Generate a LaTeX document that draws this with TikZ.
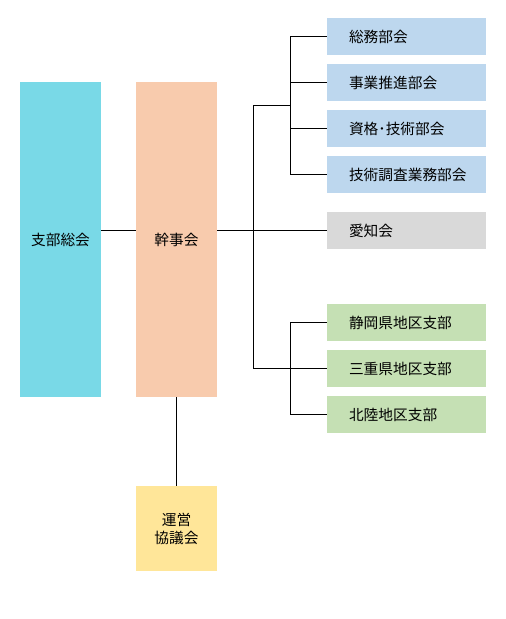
\documentclass[tikz,border=0pt]{standalone}
\usepackage{fontspec}
\newfontfamily\jpfont{Noto Sans CJK JP}
\usetikzlibrary{positioning}
\definecolor{soukaicol}{HTML}{79D9E7}
\definecolor{kanjicol}{HTML}{F8CBAD}
\definecolor{uneicol}{HTML}{FFE699}
\definecolor{bukaicol}{HTML}{BDD7EE}
\definecolor{aichicol}{HTML}{D9D9D9}
\definecolor{shibucol}{HTML}{C5E0B4}
\tikzstyle{tall}=[text width=81pt, inner sep=0pt,
    text centered, minimum height=315pt]
\tikzstyle{unei}=[text width=81pt, inner sep=0pt,
    text centered, minimum height=85pt]
\tikzstyle{bu}=[text width=115pt, inner xsep=22pt, inner ysep=0pt,
    align=left, minimum height=37pt]
\tikzstyle{link}=[line width=1pt, black]
\def\subx{290}

\begin{document}
\begin{tikzpicture}[x=1pt, y=-1pt, font=\jpfont\fontsize{14.7}{18}\selectfont]
    \useasboundingbox (0,0) rectangle (506,619);
    % left column
    \node (soukai) [tall, fill=soukaicol] at (60.5,239.5) {支部総会};
    \node (kanji) [tall, fill=kanjicol] at (176.5,239.5) {幹事会};
    \node (unei) [unei, fill=uneicol] at (176.5,528.5) {運営\\協議会};
    % committees
    \node (soumu) [bu, fill=bukaicol] at (406.5,36.5) {総務部会};
    \node (jigyo) [bu, fill=bukaicol] at (406.5,82.5) {事業推進部会};
    \node (shikaku) [bu, fill=bukaicol] at (406.5,128.5) {資格･技術部会};
    \node (chosa) [bu, fill=bukaicol] at (406.5,174.5) {技術調査業務部会};
    \node (aichi) [bu, fill=aichicol] at (406.5,230.5) {愛知会};
    % branches
    \node (shizuoka) [bu, fill=shibucol] at (406.5,322.5) {静岡県地区支部};
    \node (mie) [bu, fill=shibucol] at (406.5,368.5) {三重県地区支部};
    \node (hokuriku) [bu, fill=shibucol] at (406.5,414.5) {北陸地区支部};
    \coordinate (trunk) at (253,105.5);
    \coordinate (top) at (\subx,105.5);
    \coordinate (bottom) at (\subx,368.5);
    \draw[link] (soukai.east |- aichi) -- (kanji.west |- aichi);
    \draw[link] (kanji.east |- aichi) -- (aichi.west);
    \draw[link] (kanji.south) -- (unei.north);
    \draw[link] (top) -- (trunk) -- (trunk |- mie) -- (mie.west);
    \draw[link] (top |- soumu) -- (top |- chosa);
    \draw[link] (bottom |- shizuoka) -- (bottom |- hokuriku);
    \foreach \n in {soumu,jigyo,shikaku,chosa}
        \draw[link] (top |- \n) -- (\n.west);
    \foreach \n in {shizuoka,hokuriku}
        \draw[link] (bottom |- \n) -- (\n.west);
\end{tikzpicture}
\end{document}
